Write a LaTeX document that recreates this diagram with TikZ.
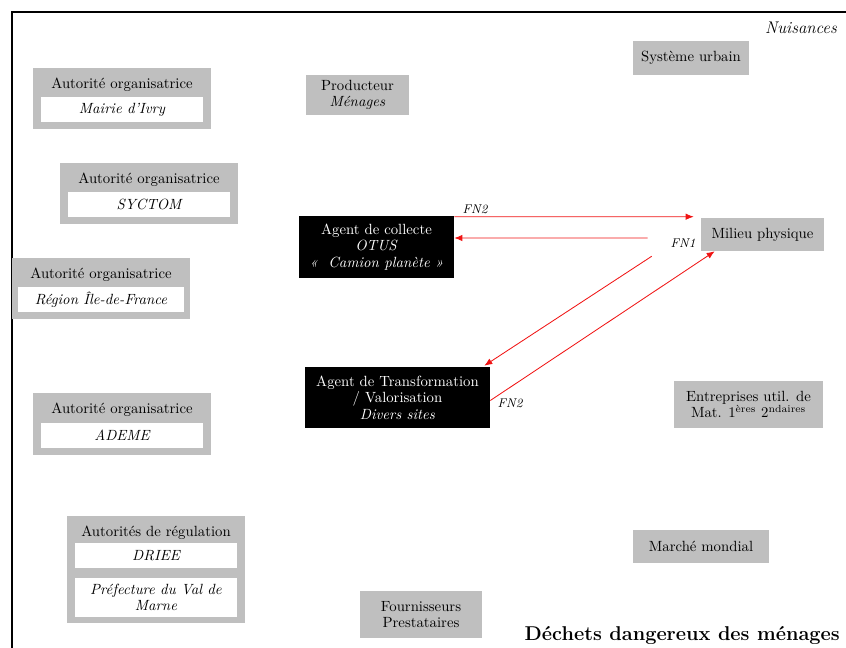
\documentclass[tikz,border=0pt]{standalone}
\usepackage{tikz}
\usetikzlibrary{arrows.meta,positioning,calc}
\definecolor{boxgray}{RGB}{191,191,191}
\definecolor{flowred}{RGB}{240,20,20}

\begin{document}
\fontsize{10.5}{11.8}\selectfont
\begin{tikzpicture}[x=0.025cm,y=-0.025cm,
      gbox/.style={fill=boxgray,align=center,inner sep=0pt},
      kbox/.style={fill=black,text=white,align=center,inner sep=0pt},
      wbox/.style={fill=white,align=center,inner sep=0pt,minimum width=4.05cm,
        minimum height=0.625cm,font=\itshape},
      grp/.style={fill=boxgray,inner sep=0pt,minimum width=4.45cm,minimum height=1.525cm},
      arr/.style={-{Latex[length=2mm,width=1.6mm]},line width=0.6pt,flowred},
      lab/.style={font=\fontsize{9}{10}\selectfont\itshape,inner sep=1pt}]
    \useasboundingbox (0,0) rectangle (846,648);
    \draw[line width=1pt] (12,648) -- (12,12) -- (846,12);
    \node[font=\fontsize{12}{14}\selectfont\itshape,anchor=east] (nuis) at (842,28) {Nuisances};

    % autorites
    \node[grp] (ao1) at (122,98.5) {};
    \node[below=0.12cm of ao1.north,anchor=north] (ao1t) {Autorité organisatrice};
    \node[wbox,above=0.175cm of ao1.south] (ao1i) {Mairie d'Ivry};
    \node[grp] (ao2) at (149,193.5) {};
    \node[below=0.12cm of ao2.north,anchor=north] (ao2t) {Autorité organisatrice};
    \node[wbox,above=0.175cm of ao2.south] (ao2i) {SYCTOM};
    \node[grp] (ao3) at (101,288.5) {};
    \node[below=0.12cm of ao3.north,anchor=north] (ao3t) {Autorité organisatrice};
    \node[wbox,above=0.175cm of ao3.south,minimum width=4.125cm] (ao3i) {Région Île-de-France};
    \node[grp] (ao4) at (122,424) {};
    \node[below=0.12cm of ao4.north,anchor=north] (ao4t) {Autorité organisatrice};
    \node[wbox,above=0.175cm of ao4.south] (ao4i) {ADEME};
    \node[grp,minimum height=2.675cm] (reg) at (156,569.5) {};
    \node[below=0.12cm of reg.north,anchor=north] (regt) {Autorités de régulation};
    \node[wbox,above=0.15cm of reg.south,minimum height=0.975cm,
      align=center] (pref) {Préfecture du Val de\\Marne};
    \node[wbox,above=0.225cm of pref.north,anchor=south] (driee) {DRIEE};

    % acteurs
    \node[gbox,minimum width=2.575cm,minimum height=1cm] (prod) at (357.5,95)
      {Producteur\\\textit{Ménages}};
    \node[gbox,minimum width=2.9cm,minimum height=0.85cm] (sys) at (691,58) {Système urbain};
    \node[kbox,minimum width=3.875cm,minimum height=1.55cm] (coll) at (376.5,247)
      {Agent de collecte\\\textit{OTUS}\\\textit{«\ \ Camion planète »}};
    \node[kbox,minimum width=4.625cm,minimum height=1.525cm] (transf) at (397.5,397.5)
      {Agent de Transformation\\/ Valorisation\\\textit{Divers sites}};
    \node[gbox,minimum width=3.075cm,minimum height=0.825cm] (mil) at (762.5,234.5)
      {Milieu physique};
    \node[gbox,minimum width=3.725cm,minimum height=1.175cm] (entr) at (748.5,404.5)
      {Entreprises util. de\\Mat. 1\textsuperscript{ères} 2\textsuperscript{ndaires}};
    \node[gbox,minimum width=3.4cm,minimum height=0.825cm] (march) at (701,546.5)
      {Marché mondial};
    \node[gbox,minimum width=3.05cm,minimum height=1.175cm] (fourn) at (421,614.5)
      {Fournisseurs\\Prestataires};
    \node[font=\fontsize{14.2}{17}\selectfont\bfseries,anchor=east] (titre) at (845,635)
      {Déchets dangereux des ménages};

    % flux
    \draw[arr] ($(coll.north east)+(0,1)$) -- ($(mil.north west)+(-7,-1)$);
    \draw[arr] ($(mil.west)+(-53,3.5)$) -- ($(coll.east)+(0,-9)$);
    \draw[arr] ($(mil.south west)+(-49,5)$) -- ($(transf.north east)+(-6,-1)$);
    \draw[arr] ($(transf.east)+(0,3)$) -- ($(mil.south west)+(14,0)$);
    \node[lab] (fn2a) at (475,209) {FN2};
    \node[lab] (fn1) at (683,243) {FN1};
    \node[lab] (fn2b) at (510,403) {FN2};
  \end{tikzpicture}
\end{document}
